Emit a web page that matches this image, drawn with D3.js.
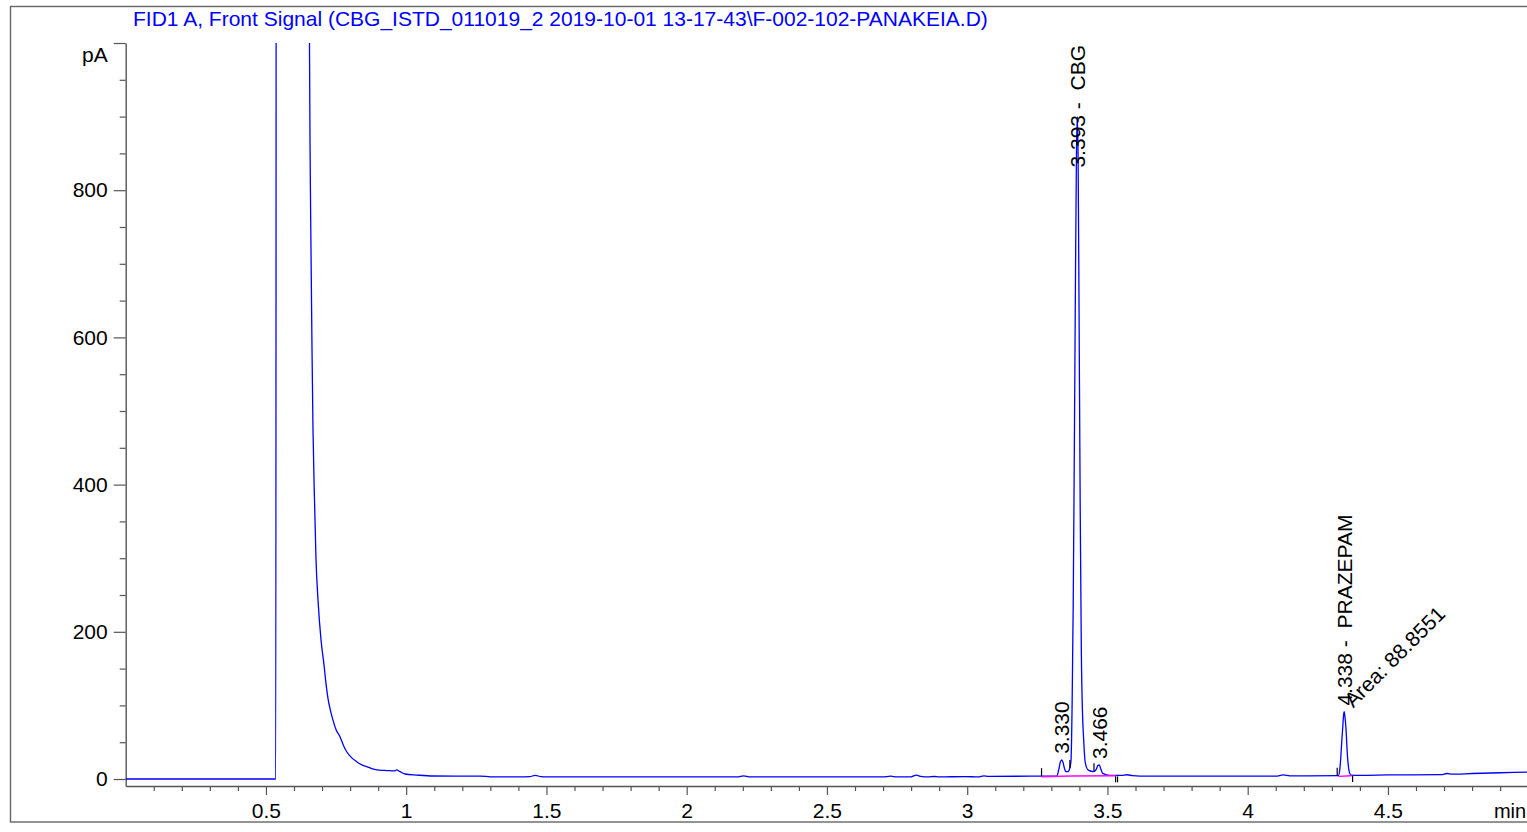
<!DOCTYPE html>
<html>
<head>
<meta charset="utf-8">
<script src="https://cdn.jsdelivr.net/npm/d3@7/dist/d3.min.js"></script>
<style>
  html, body { margin: 0; padding: 0; background: #fff; }
  svg { display: block; }
  text { font-family: "Liberation Sans", Arial, sans-serif; }
</style>
</head>
<body>
<svg id="chart" width="1527" height="832"></svg>
<script>
// ---------------- DATA ----------------
const titleText = "FID1 A, Front Signal (CBG_ISTD_011019_2 2019-10-01 13-17-43\\F-002-102-PANAKEIA.D)";
const xUnit = "min";
const yUnit = "pA";

// retention time (min)
const traceTime = [
  0.000, 0.535, 0.537, 0.652, 0.654, 0.6555, 0.657, 0.6606, 0.6642, 0.6677, 0.673, 0.6785, 0.6856,
  0.6963, 0.707, 0.714, 0.721, 0.730, 0.739, 0.750, 0.764, 0.776, 0.788, 0.805, 0.8235, 0.840, 0.859, 0.877, 0.895, 0.920, 0.942, 0.958, 0.966,
  0.978, 0.996, 1.037, 1.096, 1.263, 1.300, 1.334, 1.40, 1.44, 1.460, 1.48, 1.50, 2.00, 2.18,
  2.203, 2.225, 2.70, 2.727, 2.75, 2.80, 2.819, 2.835, 2.86, 2.882, 2.90, 2.99, 3.04, 3.059,
  3.075, 3.224, 3.319, 3.326, 3.332, 3.337, 3.342, 3.347, 3.352, 3.359, 3.366, 3.370, 3.374,
  3.378, 3.382, 3.386, 3.3895, 3.3925, 3.3955, 3.399, 3.403, 3.407, 3.411, 3.415, 3.421, 3.432,
  3.450, 3.460, 3.466, 3.471, 3.477, 3.483, 3.509, 3.55, 3.569, 3.59, 3.616, 4.10, 4.127, 4.15,
  4.323, 4.328, 4.332, 4.336, 4.339, 4.3415, 4.344, 4.3465, 4.350, 4.355, 4.362, 4.368, 4.40,
  4.50, 4.69, 4.71, 4.73, 4.80, 4.90, 5.00
];
// detector signal (pA)
const tracePA = [
  0, 0, 1500, 1500, 1100, 980, 869, 720, 584, 475, 380, 298, 243,
  189, 155, 130, 110, 93, 80, 67, 57.5, 46, 37, 29, 23.5, 19.5, 16.7, 14.2, 12.4, 11.6, 11.3, 11.0, 12.3,
  10, 6.8, 5.4, 4.1, 4.0, 3.0, 2.8, 2.8, 3.2, 5.0, 3.2, 2.8, 2.8, 2.8,
  4.3, 2.8, 2.8, 3.8, 2.8, 3.0, 5.3, 3.5, 2.8, 3.4, 2.8, 3.3, 2.8, 4.3,
  3.6, 3.8, 4.0, 12, 23, 26, 22, 14, 10, 10, 15, 25, 100,
  240, 450, 680, 850, 900, 840, 620, 360, 170, 90, 55, 22, 12,
  10, 13, 18.5, 19, 13, 7.7, 5, 5, 5.8, 4.5, 4.0, 4.0, 5.5, 4.2,
  4.5, 12, 30, 55, 71, 86, 91.6, 85, 71, 35, 10, 5.4, 5.0,
  5.5, 6.0, 7.5, 6.5, 7.5, 8.5, 9.5
];

// peak annotations
const peakRT     = [3.330, 3.393, 3.466, 4.338];
const peakLabels = ["3.330", "3.393 -  CBG", "3.466", "4.338 -  PRAZEPAM"];
const areaLabelRT   = [4.338];
const areaLabelText = ["Area: 88.8551"];

// integration baselines (magenta)
const integStartT  = [3.264, 3.368, 4.323];
const integStartPA = [3.0, 4.0, 3.6];
const integEndT    = [3.368, 3.530, 4.370];
const integEndPA   = [4.0, 4.4, 4.4];

// peak start/stop markers
const markerT    = [3.265, 3.366, 3.452, 3.529, 3.536, 4.319, 4.374];
const markerSide = ["up", "up", "up", "down", "down", "up", "down"];

// axis ticks
const yMajorTicks = [0, 200, 400, 600, 800, 1000];
const yMinorTicks = [50, 100, 150, 250, 300, 350, 450, 500, 550, 650, 700, 750, 850, 900, 950];
const xMajorTicks = [0.5, 1, 1.5, 2, 2.5, 3, 3.5, 4, 4.5];
const xMinorTicks = [0.1, 0.2, 0.3, 0.4, 0.6, 0.7, 0.8, 0.9, 1.1, 1.2, 1.3, 1.4, 1.6, 1.7, 1.8, 1.9,
  2.1, 2.2, 2.3, 2.4, 2.6, 2.7, 2.8, 2.9, 3.1, 3.2, 3.3, 3.4, 3.6, 3.7, 3.8, 3.9,
  4.1, 4.2, 4.3, 4.4, 4.6, 4.7, 4.8, 4.9];

// ---------------- LAYOUT ----------------
const W = 1527, H = 832;
const plot = { left: 125.7, right: 1528.2, top: 43, bottom: 786 };
const axisColor = "#555";
const fontSize = 21;

const svg = d3.select("#chart");

const x = d3.scaleLinear().domain([0, 5]).range([plot.left, plot.right]);
const y = d3.scaleLinear().domain([-9.5, 1000]).range([plot.bottom, plot.top]);

// outer frame
svg.append("rect")
  .attr("x", 10.5).attr("y", 6.5)
  .attr("width", 1560).attr("height", 815.5)
  .attr("fill", "none").attr("stroke", "#666").attr("stroke-width", 1.4);

// title
svg.append("text")
  .attr("x", 133).attr("y", 26)
  .attr("font-size", fontSize)
  .attr("fill", "#0000ff")
  .text(titleText);

// clip
svg.append("defs").append("clipPath").attr("id", "plotClip")
  .append("rect")
  .attr("x", plot.left).attr("y", plot.top)
  .attr("width", plot.right - plot.left).attr("height", plot.bottom - plot.top);

// Y axis
function styleAxis(g) {
  g.select(".domain").attr("stroke", axisColor).attr("stroke-width", 1.4);
  g.selectAll(".tick line").attr("stroke", axisColor).attr("stroke-width", 1.2);
  g.selectAll(".tick text").attr("fill", "#000").attr("font-size", fontSize)
    .attr("font-family", "Liberation Sans, Arial, sans-serif");
}

const yMajor = svg.append("g").attr("transform", `translate(${plot.left},0)`)
  .call(d3.axisLeft(y).tickValues(yMajorTicks).tickSize(12).tickSizeOuter(0).tickPadding(6)
    .tickFormat(d => d === 1000 ? "" : d3.format("d")(d)));
styleAxis(yMajor);
const yMinor = svg.append("g").attr("transform", `translate(${plot.left},0)`)
  .call(d3.axisLeft(y).tickValues(yMinorTicks).tickSize(6).tickSizeOuter(0).tickFormat(""));
styleAxis(yMinor);
yMinor.select(".domain").remove();

svg.append("text")
  .attr("x", plot.left - 18).attr("y", 62)
  .attr("text-anchor", "end").attr("font-size", fontSize)
  .text(yUnit);

// X axis
const xMajor = svg.append("g").attr("transform", `translate(0,${plot.bottom})`)
  .call(d3.axisBottom(x).tickValues(xMajorTicks).tickSize(9).tickSizeOuter(0).tickPadding(8)
    .tickFormat(d => String(d)));
styleAxis(xMajor);
const xMinor = svg.append("g").attr("transform", `translate(0,${plot.bottom})`)
  .call(d3.axisBottom(x).tickValues(xMinorTicks).tickSize(5).tickSizeOuter(0).tickFormat(""));
styleAxis(xMinor);
xMinor.select(".domain").remove();

svg.append("text")
  .attr("x", x(5) - 2).attr("y", 818)
  .attr("text-anchor", "end")
  .attr("font-size", 20)
  .text(xUnit);

// ---------------- TRACE ----------------
const trace = traceTime.map((t, i) => [t, tracePA[i]]);
const interp = t => {
  const i = d3.bisector(d => d[0]).left(trace, t);
  if (i <= 0) return trace[0][1];
  if (i >= trace.length) return trace[trace.length - 1][1];
  const a = trace[i - 1], b = trace[i];
  return a[1] + (b[1] - a[1]) * (t - a[0]) / (b[0] - a[0]);
};

const plotG = svg.append("g").attr("clip-path", "url(#plotClip)");

plotG.append("path")
  .datum(trace)
  .attr("fill", "none")
  .attr("stroke", "#0000ff")
  .attr("stroke-width", 1.3)
  .attr("stroke-linejoin", "round")
  .attr("d", d3.line().curve(d3.curveMonotoneX).x(d => x(d[0])).y(d => y(d[1])));

// integration baselines (drawn over the trace)
plotG.selectAll("line.integ").data(integStartT).join("line")
  .attr("class", "integ")
  .attr("x1", (d, i) => x(d)).attr("y1", (d, i) => y(integStartPA[i]))
  .attr("x2", (d, i) => x(integEndT[i])).attr("y2", (d, i) => y(integEndPA[i]))
  .attr("stroke", "#ff00ff").attr("stroke-width", 1.4);

// markers
svg.selectAll("line.marker").data(markerT).join("line")
  .attr("class", "marker")
  .attr("x1", d => x(d)).attr("x2", d => x(d))
  .attr("y1", (d, i) => markerSide[i] === "up" ? y(interp(d)) : y(interp(d)) + 1)
  .attr("y2", (d, i) => markerSide[i] === "up" ? y(interp(d)) - 8 : y(interp(d)) + 7)
  .attr("stroke", "#000").attr("stroke-width", 1.2);

// peak labels (rotated)
peakRT.forEach((rt, i) => {
  let apex = 0;
  trace.forEach(([t, v]) => { if (Math.abs(t - rt) < 0.012 && v > apex) apex = v; });
  const apexT = trace.find(([t, v]) => Math.abs(t - rt) < 0.012 && v === apex)[0];
  const px = x(apexT);
  const lbl = svg.append("text")
    .attr("font-size", fontSize)
    .attr("dy", "0.35em")
    .style("white-space", "pre")
    .text(peakLabels[i]);
  const len = lbl.node().getComputedTextLength();
  let startY = y(apex) - 6;
  if (startY - len < plot.top + 2) startY = plot.top + 2 + len;
  lbl.attr("transform", `translate(${px},${startY}) rotate(-90)`);
});

// area labels
areaLabelRT.forEach((rt, i) => {
  let apex = 0;
  trace.forEach(([t, v]) => { if (Math.abs(t - rt) < 0.012 && v > apex) apex = v; });
  const apexT = trace.find(([t, v]) => Math.abs(t - rt) < 0.012 && v === apex)[0];
  svg.append("text")
    .attr("font-size", fontSize)
    .attr("transform", `translate(${x(apexT) + 9},${y(apex) - 3}) rotate(-45)`)
    .text(areaLabelText[i]);
});
</script>
</body>
</html>
